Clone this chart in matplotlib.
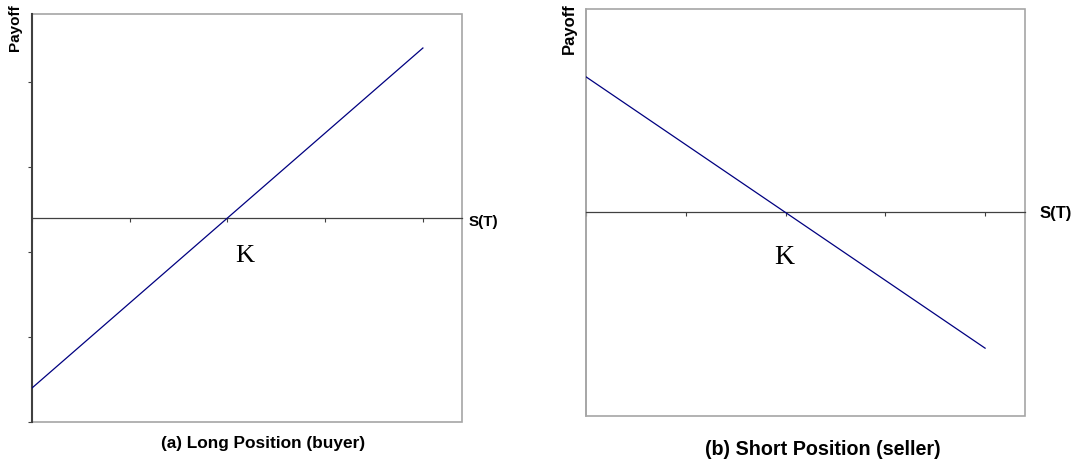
import matplotlib
matplotlib.use("Agg")
import matplotlib.pyplot as plt
from matplotlib.patches import Rectangle

# ---- data ----
S_T = [0, 1, 2, 3, 4]                 # underlying price at maturity (K = 2)
long_payoff = [-2, -1, 0, 1, 2]       # buyer
short_payoff = [2, 1, 0, -1, -2]      # seller
x_ticks = [0, 1, 2, 3, 4]
left_yticks = [-2.4, -1.4, -0.4, 0.6, 1.6]
K_value = 2

W, H = 1074, 461
fig = plt.figure(figsize=(W / 100, H / 100), dpi=100)

def fx(px):
    return px / W

def fy(py):
    return 1 - py / H

ax1 = fig.add_axes([fx(32), fy(422), fx(430), 408 / H])
ax2 = fig.add_axes([fx(586), fy(416), fx(439), 407 / H])

DARK = "#404040"
GRAY = "#a6a6a6"
LINE = "#000080"

def style(ax, ylim, yticks, left_dark):
    ax.set_xlim(0, 4.4)
    ax.set_ylim(*ylim)
    for s in ("top", "right"):
        ax.spines[s].set_visible(False)
    ax.spines["bottom"].set_position(("data", 0))
    ax.spines["bottom"].set_color(DARK)
    ax.spines["bottom"].set_linewidth(0.9)
    if left_dark:
        ax.spines["left"].set_color(DARK)
        ax.spines["left"].set_linewidth(1.5)
    else:
        ax.spines["left"].set_color(GRAY)
        ax.spines["left"].set_linewidth(1.2)
    ax.add_patch(Rectangle((0, 0), 1, 1, transform=ax.transAxes, fill=False,
                           edgecolor=GRAY, linewidth=1.2, clip_on=False, zorder=0.5))
    ax.set_xticks(x_ticks)
    ax.set_xticklabels([])
    ax.set_yticks(yticks)
    ax.set_yticklabels([])
    ax.tick_params(axis="x", direction="out", length=3, width=0.8, color=DARK)
    ax.tick_params(axis="y", direction="out", length=3, width=0.8, color=DARK)

style(ax1, (-2.4, 2.4), left_yticks, True)
style(ax2, (-3, 3), [], False)

ax1.plot(S_T, long_payoff, color=LINE, lw=0.9, zorder=3)
ax2.plot(S_T, short_payoff, color=LINE, lw=0.9, zorder=3)

sans = "Liberation Sans"
serif = "Liberation Serif"

# left panel texts
fig.text(fx(15), fy(28), "Payoff", rotation=90, ha="center", va="center",
         fontsize=11, fontweight="bold", family=sans)
fig.text(fx(483), fy(222), "S(T)", ha="center", va="center",
         fontsize=11, fontweight="bold", family=sans)
fig.text(fx(245), fy(256), "K", ha="center", va="center",
         fontsize=19, family=serif)
fig.text(fx(263.5), fy(443), "(a) Long Position (buyer)", ha="center", va="center",
         fontsize=12.4, fontweight="bold", family=sans)

# right panel texts
fig.text(fx(569), fy(29), "Payoff", rotation=90, ha="center", va="center",
         fontsize=12, fontweight="bold", family=sans)
fig.text(fx(1056), fy(213), "S(T)", ha="center", va="center",
         fontsize=12, fontweight="bold", family=sans)
fig.text(fx(784), fy(257), "K", ha="center", va="center",
         fontsize=20, family=serif)
fig.text(fx(822.5), fy(449), "(b) Short Position (seller)", ha="center", va="center",
         fontsize=14.2, fontweight="bold", family=sans)

fig.savefig("out.png", dpi=100)
